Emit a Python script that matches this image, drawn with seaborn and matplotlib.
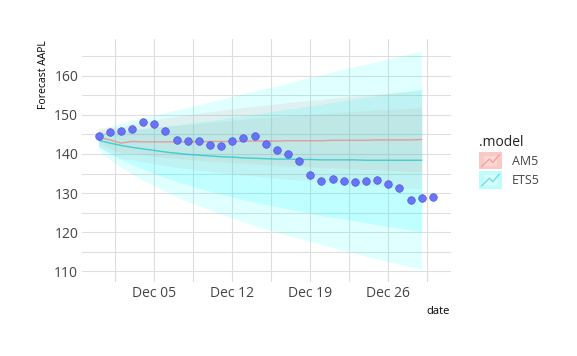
import matplotlib
matplotlib.use("Agg")
import matplotlib.pyplot as plt
import matplotlib.dates as mdates
from matplotlib.legend_handler import HandlerBase
from matplotlib.patches import Rectangle
from matplotlib.lines import Line2D
import seaborn as sns
import pandas as pd

# observed AAPL close, one value per day
obs_dates = pd.date_range("2022-11-30", "2022-12-30", freq="D")
obs_close = [144.6, 145.6, 146.0, 146.4, 148.2, 147.7, 145.9, 143.6, 143.4, 143.2,
             142.3, 142.0, 143.2, 144.2, 144.5, 142.6, 141.0, 140.1, 138.2, 134.6,
             133.2, 133.5, 133.2, 132.9, 133.1, 133.3, 132.3, 131.2, 128.2, 128.7,
             129.1]

# forecast horizon
fc_dates = pd.date_range("2022-11-30", "2022-12-29", freq="D")

am5_mean = [144.3, 143.6, 142.8, 143.2, 143.1, 143.1, 143.1, 143.1, 143.1, 143.1,
            143.2, 143.2, 143.2, 143.3, 143.3, 143.3, 143.3, 143.4, 143.4, 143.4,
            143.4, 143.5, 143.5, 143.5, 143.5, 143.6, 143.6, 143.6, 143.6, 143.7]
am5_lo80 = [142.8, 141.5, 140.2, 140.2, 139.8, 139.4, 139.1, 138.9, 138.6, 138.4,
            138.2, 138.0, 137.8, 137.7, 137.5, 137.3, 137.1, 137.0, 136.9, 136.7,
            136.5, 136.5, 136.3, 136.2, 136.0, 136.0, 135.8, 135.7, 135.5, 135.5]
am5_hi80 = [145.8, 145.7, 145.4, 146.2, 146.5, 146.8, 147.1, 147.3, 147.6, 147.8,
            148.2, 148.4, 148.6, 148.9, 149.1, 149.3, 149.5, 149.8, 149.9, 150.1,
            150.3, 150.5, 150.7, 150.9, 151.0, 151.3, 151.4, 151.5, 151.7, 151.9]
am5_lo95 = [142.0, 140.4, 138.8, 138.6, 138.0, 137.5, 137.0, 136.6, 136.2, 135.8,
            135.6, 135.2, 134.9, 134.7, 134.4, 134.1, 133.8, 133.6, 133.4, 133.1,
            132.9, 132.7, 132.5, 132.2, 132.0, 131.9, 131.7, 131.4, 131.2, 131.1]
am5_hi95 = [146.6, 146.9, 146.8, 147.8, 148.2, 148.7, 149.2, 149.6, 150.0, 150.4,
            150.8, 151.2, 151.5, 151.9, 152.2, 152.5, 152.8, 153.2, 153.4, 153.7,
            153.9, 154.3, 154.5, 154.8, 155.0, 155.3, 155.6, 155.8, 156.0, 156.3]

ets_mean = [143.5, 142.8, 142.2, 141.7, 141.3, 140.9, 140.5, 140.2, 139.9, 139.7,
            139.5, 139.3, 139.2, 139.0, 138.9, 138.8, 138.7, 138.7, 138.6, 138.6,
            138.5, 138.5, 138.5, 138.5, 138.4, 138.4, 138.4, 138.4, 138.4, 138.4]
ets_lo80 = [141.8, 140.1, 138.6, 137.3, 136.1, 135.0, 133.9, 133.0, 132.1, 131.3,
            130.5, 129.7, 129.0, 128.3, 127.7, 127.1, 126.5, 126.0, 125.4, 124.9,
            124.3, 123.8, 123.4, 122.9, 122.4, 121.9, 121.5, 121.0, 120.6, 120.2]
ets_hi80 = [145.2, 145.5, 145.8, 146.2, 146.5, 146.8, 147.1, 147.4, 147.8, 148.2,
            148.5, 148.9, 149.4, 149.7, 150.1, 150.6, 151.0, 151.5, 151.8, 152.3,
            152.7, 153.2, 153.6, 154.1, 154.5, 154.9, 155.3, 155.8, 156.2, 156.6]
ets_lo95 = [140.9, 138.6, 136.6, 134.9, 133.3, 131.9, 130.4, 129.1, 127.9, 126.8,
            125.7, 124.6, 123.7, 122.6, 121.7, 120.8, 120.0, 119.2, 118.4, 117.6,
            116.8, 116.1, 115.3, 114.7, 113.8, 113.2, 112.5, 111.8, 111.2, 110.5]
ets_hi95 = [146.1, 147.0, 147.8, 148.5, 149.3, 149.9, 150.6, 151.3, 151.9, 152.6,
            153.3, 154.0, 154.7, 155.4, 156.1, 156.8, 157.4, 158.2, 158.9, 159.6,
            160.2, 161.0, 161.7, 162.4, 163.0, 163.6, 164.3, 165.0, 165.7, 166.3]

models = ["AM5", "ETS5"]
y_ticks = [110, 120, 130, 140, 150, 160]
x_ticks = ["2022-12-05", "2022-12-12", "2022-12-19", "2022-12-26"]

PINK = "#F8766D"
CYAN = "#00FFFF"
TEAL = "#00BFC4"
DOTS = "#636EFA"

sns.set_theme(style="white")
plt.rcParams["font.family"] = ["Open Sans", "DejaVu Sans"]

obs = pd.DataFrame({"date": obs_dates, "close": obs_close})
fc = pd.DataFrame({"date": list(fc_dates) * 2,
                   "mean": am5_mean + ets_mean,
                   ".model": ["AM5"] * len(fc_dates) + ["ETS5"] * len(fc_dates)})

fig = plt.figure(figsize=(5.77, 3.56), dpi=100)
ax = fig.add_axes([81.7 / 577, 1 - 282 / 356, 369 / 577, 242.7 / 356])

# interval bands
ax.fill_between(fc_dates, am5_lo95, am5_hi95, color=PINK, alpha=0.11, lw=0)
ax.fill_between(fc_dates, am5_lo80, am5_hi80, color=PINK, alpha=0.11, lw=0)
ax.fill_between(fc_dates, ets_lo95, ets_hi95, color=CYAN, alpha=0.12, lw=0)
ax.fill_between(fc_dates, ets_lo80, ets_hi80, color=CYAN, alpha=0.14, lw=0)

sns.lineplot(data=fc, x="date", y="mean", hue=".model",
             palette={"AM5": PINK, "ETS5": TEAL}, linewidth=1.0, alpha=0.65,
             legend=False, ax=ax)
sns.scatterplot(data=obs, x="date", y="close", color=DOTS, s=30,
                edgecolor="#4B55D8", linewidth=0.5, alpha=0.95, zorder=5, ax=ax)

ax.set_ylim(107.3, 169.3)
ax.set_xlim(mdates.date2num(pd.Timestamp("2022-11-28 11:30")),
            mdates.date2num(pd.Timestamp("2022-12-31 14:30")))
ax.set_yticks(y_ticks)
ax.set_yticks([115, 125, 135, 145, 155, 165], minor=True)
major = [mdates.date2num(pd.Timestamp(d)) for d in x_ticks]
ax.set_xticks(major)
ax.set_xticks([m - 3.5 for m in major] + [major[-1] + 3.5], minor=True)
ax.xaxis.set_major_formatter(mdates.DateFormatter("%b %d"))
ax.grid(True, which="both", color="#DEDEDE", linewidth=0.8)
ax.set_axisbelow(True)
for s in ax.spines.values():
    s.set_visible(False)
ax.tick_params(which="both", length=0, labelsize=10, labelcolor="#444444")
ax.tick_params(axis="y", pad=2.5)
ax.tick_params(axis="x", pad=3)
ax.set_xlabel("")
ax.set_ylabel("")

fig.text(43 / 577, 1 - 40 / 356, "Forecast AAPL", rotation=90, ha="center",
         va="top", fontsize=7.5, color="black")
fig.text(450 / 577, 1 - 312 / 356, "date", ha="right", va="center",
         fontsize=8, color="black")


class BandLine(HandlerBase):
    def create_artists(self, legend, orig, xd, yd, w, h, fontsize, trans):
        outer, inner, line = orig.get_color(), orig.get_markerfacecolor(), orig.get_markeredgecolor()
        x0, y0 = -xd, -yd
        box = Rectangle((x0, y0), w, h, facecolor=outer, lw=0, transform=trans)
        ib = Rectangle((x0 + 0.2 * w, y0 + 0.2 * h), 0.6 * w, 0.6 * h,
                       facecolor=inner, lw=0, transform=trans)
        zig = Line2D([x0 + 0.1 * w, x0 + 0.45 * w, x0 + 0.6 * w, x0 + 0.9 * w],
                     [y0 + 0.15 * h, y0 + 0.6 * h, y0 + 0.4 * h, y0 + 0.85 * h],
                     color=line, lw=1.0, transform=trans)
        return [box, ib, zig]


proxies = [Line2D([], [], color="#F9C9C6", markerfacecolor="#FBD8D5",
                  markeredgecolor="#F4A29B"),
           Line2D([], [], color="#C0FCFC", markerfacecolor="#D6FDFD",
                  markeredgecolor="#7ADCE0")]
leg = fig.legend(proxies, models, title=".model", loc="upper left",
                 bbox_to_anchor=(468 / 577, 1 - 124 / 356), frameon=False,
                 handler_map={Line2D: BandLine()}, handlelength=1.8,
                 handleheight=1.75, fontsize=9, title_fontsize=10,
                 labelspacing=0.15, handletextpad=0.8, alignment="left")
for t in leg.get_texts():
    t.set_color("#444444")
leg.get_title().set_color("#222222")

fig.savefig("out.png", dpi=100)
